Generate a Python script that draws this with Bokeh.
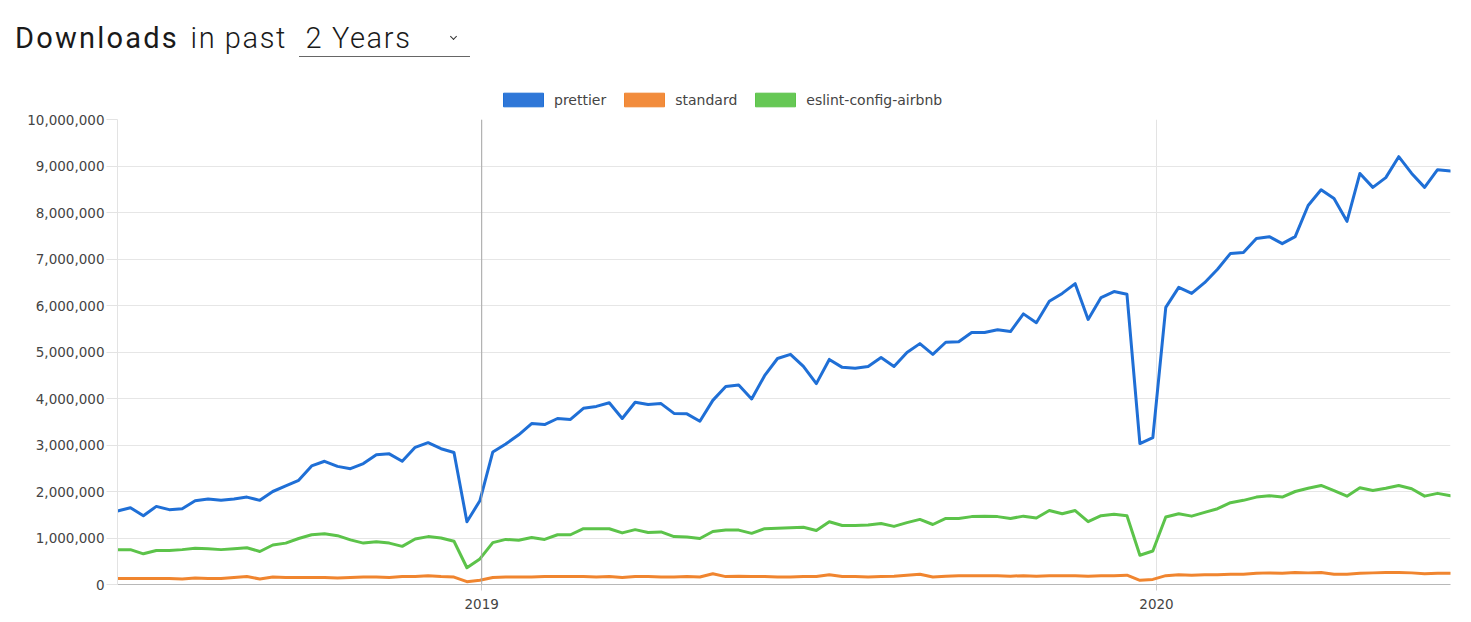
import pandas as pd
from bokeh.plotting import figure
from bokeh.models import (Div, Legend, LegendItem, NumeralTickFormatter, FixedTicker,
                          DatetimeTickFormatter, Span, Range1d)
from bokeh.layouts import column
from bokeh.embed import file_html
from bokeh.resources import INLINE

# ---- data (weekly downloads, millions) ----
weeks = pd.date_range("2018-06-18", periods=104, freq="7D")

prettier_m = [
    1.58, 1.65, 1.48, 1.68, 1.61, 1.63, 1.80, 1.84, 1.81, 1.84,
    1.88, 1.81, 2.00, 2.12, 2.24, 2.55, 2.65, 2.54, 2.49, 2.60,
    2.79, 2.81, 2.65, 2.95, 3.05, 2.92, 2.84, 1.35, 1.80, 2.85,
    3.02, 3.22, 3.46, 3.44, 3.57, 3.55, 3.79, 3.83, 3.91, 3.57,
    3.92, 3.87, 3.89, 3.68, 3.67, 3.51, 3.96, 4.26, 4.29, 3.99,
    4.49, 4.86, 4.95, 4.69, 4.32, 4.84, 4.67, 4.65, 4.69, 4.88,
    4.69, 4.99, 5.18, 4.95, 5.21, 5.22, 5.42, 5.42, 5.48, 5.44,
    5.82, 5.63, 6.09, 6.26, 6.47, 5.70, 6.17, 6.30, 6.24, 3.03,
    3.16, 5.96, 6.39, 6.26, 6.49, 6.78, 7.12, 7.14, 7.44, 7.48,
    7.33, 7.48, 8.15, 8.49, 8.30, 7.81, 8.84, 8.54, 8.75, 9.20,
    8.84, 8.54, 8.92, 8.89,
]

standard_m = [
    0.13, 0.13, 0.13, 0.13, 0.13, 0.12, 0.14, 0.13, 0.13, 0.15,
    0.17, 0.12, 0.16, 0.15, 0.15, 0.15, 0.15, 0.14, 0.15, 0.16,
    0.16, 0.15, 0.17, 0.17, 0.19, 0.17, 0.16, 0.06, 0.09, 0.15,
    0.16, 0.16, 0.16, 0.17, 0.17, 0.17, 0.17, 0.16, 0.17, 0.15,
    0.17, 0.17, 0.16, 0.16, 0.17, 0.16, 0.23, 0.17, 0.18, 0.17,
    0.17, 0.16, 0.16, 0.17, 0.17, 0.21, 0.17, 0.17, 0.16, 0.17,
    0.18, 0.20, 0.22, 0.16, 0.18, 0.19, 0.19, 0.19, 0.19, 0.18,
    0.19, 0.18, 0.19, 0.19, 0.19, 0.18, 0.19, 0.19, 0.20, 0.09,
    0.11, 0.19, 0.21, 0.20, 0.21, 0.21, 0.22, 0.22, 0.24, 0.25,
    0.24, 0.26, 0.25, 0.26, 0.22, 0.22, 0.24, 0.25, 0.26, 0.26,
    0.25, 0.23, 0.24, 0.24,
]

airbnb_m = [
    0.75, 0.75, 0.66, 0.73, 0.73, 0.75, 0.78, 0.77, 0.75, 0.77,
    0.79, 0.71, 0.85, 0.89, 0.99, 1.07, 1.09, 1.05, 0.96, 0.89,
    0.92, 0.89, 0.82, 0.98, 1.03, 1.00, 0.93, 0.36, 0.55, 0.90,
    0.97, 0.95, 1.01, 0.97, 1.07, 1.07, 1.20, 1.20, 1.20, 1.11,
    1.18, 1.12, 1.13, 1.03, 1.02, 0.99, 1.14, 1.17, 1.17, 1.10,
    1.20, 1.21, 1.22, 1.23, 1.16, 1.35, 1.27, 1.27, 1.28, 1.31,
    1.25, 1.33, 1.40, 1.29, 1.42, 1.42, 1.46, 1.47, 1.46, 1.42,
    1.47, 1.43, 1.59, 1.52, 1.59, 1.35, 1.48, 1.51, 1.48, 0.63,
    0.72, 1.45, 1.52, 1.47, 1.55, 1.63, 1.76, 1.81, 1.88, 1.91,
    1.88, 2.00, 2.07, 2.13, 2.02, 1.90, 2.08, 2.02, 2.07, 2.13,
    2.06, 1.90, 1.96, 1.91,
]

packages = ["prettier", "standard", "eslint-config-airbnb"]
series = [prettier_m, standard_m, airbnb_m]
line_colors = ["#1f6fd6", "#f0852f", "#5cc34a"]
box_colors = ["#2f77d8", "#f28c3c", "#66c855"]

y_ticks = [i * 1_000_000 for i in range(11)]
year_ticks = [pd.Timestamp("2019-01-01"), pd.Timestamp("2020-01-01")]

# ---- title ----
title_html = (
    '<div style="font-family:Roboto,\'Noto Sans\',sans-serif;font-size:29px;color:#1a1a1a;'
    'letter-spacing:1.6px;white-space:nowrap;padding:20px 0 0 15px;line-height:36px;">'
    '<span style="font-weight:400;letter-spacing:2.2px;">Downloads</span>'
    '<span style="font-weight:300;margin-left:3px;"> in past </span>'
    '<span style="font-weight:300;display:inline-block;position:relative;width:171px;'
    'box-sizing:border-box;margin-left:3px;padding-left:7px;border-bottom:1px solid #666;">2 Years'
    '<span style="position:absolute;right:14px;top:14px;width:5px;height:5px;'
    'border-right:1.6px solid #333;border-bottom:1.6px solid #333;transform:rotate(45deg);"></span>'
    '</span></div>'
)
title = Div(text=title_html, width=1471, height=70, margin=(0, 0, 0, 0))

# ---- legend strip ----
lg = figure(width=1471, height=39, x_range=Range1d(0, 1), y_range=Range1d(0, 1),
            output_backend="svg", toolbar_location=None,
            x_axis_location=None, y_axis_location=None,
            min_border_left=0, min_border_right=0, min_border_top=0, min_border_bottom=0)
lg.outline_line_color = None
lg.xgrid.visible = False
lg.ygrid.visible = False

items = []
for name, lc, bc in zip(packages, line_colors, box_colors):
    # zero-size quad: only gives the legend a filled box swatch
    box = lg.quad(left=[0], right=[0], top=[0], bottom=[0],
                  fill_color=bc, line_color=lc, line_width=1)
    items.append(LegendItem(label=name, renderers=[box]))

legend = Legend(items=items, orientation="horizontal", location=(381, 1),
                glyph_width=50, glyph_height=17, label_standoff=6, spacing=13,
                padding=0, margin=0, border_line_color=None, background_fill_alpha=0,
                label_text_font="DejaVu Sans", label_text_font_size="14px",
                label_text_color="#444444", label_height=17)
lg.add_layout(legend)

# ---- main chart ----
p = figure(width=1471, height=513, x_axis_type="datetime",
           x_range=Range1d(weeks[0], weeks[-1]), y_range=Range1d(0, 10_000_000),
           output_backend="svg", toolbar_location=None,
           min_border_left=117, min_border_right=21, min_border_top=10, min_border_bottom=38)
p.outline_line_color = None
p.background_fill_color = "white"
p.border_fill_color = "white"

p.ygrid.grid_line_color = "#e6e6e6"
p.xgrid.grid_line_color = "#e3e3e3"

p.yaxis.ticker = FixedTicker(ticks=y_ticks)
p.yaxis.formatter = NumeralTickFormatter(format="0,0")
p.yaxis.axis_line_color = "#e3e3e3"
p.yaxis.major_tick_line_color = "#e3e3e3"
p.yaxis.major_tick_out = 11
p.yaxis.major_tick_in = 0
p.yaxis.minor_tick_line_color = None
p.yaxis.major_label_standoff = 2
p.yaxis.major_label_text_font = "DejaVu Sans"
p.yaxis.major_label_text_font_size = "13.5px"
p.yaxis.major_label_text_color = "#444444"

p.xaxis.ticker = FixedTicker(ticks=[t.value // 10**6 for t in year_ticks])
p.xaxis.formatter = DatetimeTickFormatter(years="%Y", months="%Y", days="%Y", hours="%Y")
p.xaxis.axis_line_color = "#b8b8b8"
p.xaxis.major_tick_line_color = "#cccccc"
p.xaxis.major_tick_out = 6
p.xaxis.major_tick_in = 0
p.xaxis.minor_tick_line_color = None
p.xaxis.major_label_standoff = 8
p.xaxis.major_label_text_font = "DejaVu Sans"
p.xaxis.major_label_text_font_size = "13.5px"
p.xaxis.major_label_text_color = "#444444"

p.add_layout(Span(location=year_ticks[0].value // 10**6, dimension="height",
                  line_color="#a8a8a8", line_width=1))

for vals, lc in zip(series, line_colors):
    ys = [v * 1_000_000 for v in vals]
    p.line(weeks, ys, line_color=lc, line_width=3, line_join="round", line_cap="round")

layout = column(title, lg, p, spacing=0)
open("out.html", "w").write(file_html(layout, INLINE))
